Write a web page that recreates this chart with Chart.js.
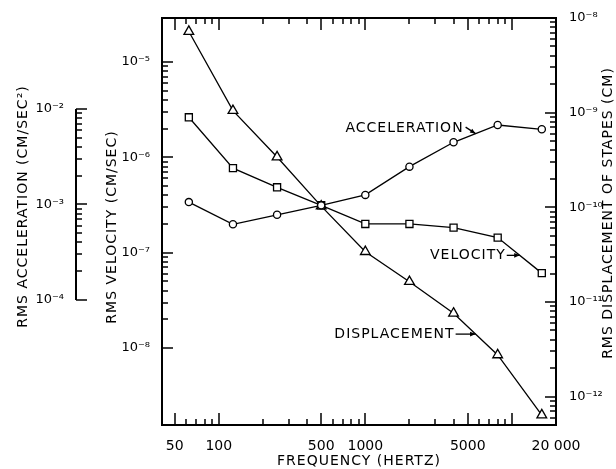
<!DOCTYPE html>
<html>
<head>
<meta charset="utf-8">
<script src="https://cdn.jsdelivr.net/npm/chart.js@4.4.1/dist/chart.umd.min.js"></script>
<style>
  html, body { margin: 0; padding: 0; background: #fff; }
  canvas { display: block; }
</style>
</head>
<body>
<canvas id="stapesChart" width="616" height="469"></canvas>
<script>
// octave band centres, Hz
const frequencies = [62.5, 125, 250, 500, 1000, 2000, 4000, 8000, 16000];

// rms motion of the stapes at each frequency
const acceleration = [1.06e-3, 6.2e-4, 7.8e-4, 9.8e-4, 1.26e-3, 2.49e-3, 4.48e-3, 6.8e-3, 6.13e-3]; // cm/sec^2
const velocity = [2.63e-6, 7.7e-7, 4.85e-7, 3.14e-7, 2.0e-7, 2.0e-7, 1.83e-7, 1.44e-7, 6.1e-8];        // cm/sec
const displacement = [7.2e-9, 1.05e-9, 3.4e-10, 1.03e-10, 3.4e-11, 1.64e-11, 7.6e-12, 2.76e-12, 6.4e-13]; // cm

const seriesLabels = ['ACCELERATION', 'VELOCITY', 'DISPLACEMENT'];

// labelled frequency ticks
const freqTickValues = [50, 100, 500, 1000, 5000, 20000];
const freqTickLabels = ['50', '100', '500', '1000', '5000', '20 000'];

// decades spanned by the tick marks of each vertical axis
const accDecades = [1e-4, 1e-2];
const velDecades = [1e-8, 1e-5];
const dispDecades = [1e-12, 1e-8];

const FONT = '"DejaVu Sans", sans-serif';
const INK = '#000';

const SUP = { '-': '\u207B', '0': '\u2070', '1': '\u00B9', '2': '\u00B2', '3': '\u00B3',
  '4': '\u2074', '5': '\u2075', '6': '\u2076', '7': '\u2077', '8': '\u2078', '9': '\u2079' };

function isDecade(v) {
  const e = Math.log10(v);
  return Math.abs(e - Math.round(e)) < 1e-6;
}
function within(v, lo, hi) {
  return v >= lo * 0.999 && v <= hi * 1.001;
}
function powerLabel(v) {
  return '10' + String(Math.round(Math.log10(v))).split('').map(c => SUP[c]).join('');
}
function decadeCallback(range) {
  return v => (within(v, range[0], range[1]) && isDecade(v)) ? powerLabel(v) : '';
}

// 1..9 x 10^n values between lo and hi
function logSteps(lo, hi) {
  const out = [];
  for (let e = Math.floor(Math.log10(lo)) - 1; e <= Math.ceil(Math.log10(hi)); e++) {
    for (let m = 1; m <= 9; m++) {
      const v = m * Math.pow(10, e);
      if (v >= lo * 0.999 && v <= hi * 1.001) out.push({ v, m });
    }
  }
  return out;
}

function points(values) {
  return frequencies.map((f, i) => ({ x: f, y: values[i] }));
}

const lineStyle = {
  borderColor: INK,
  borderWidth: 1.3,
  pointBackgroundColor: '#fff',
  pointBorderColor: INK,
  pointBorderWidth: 1.3,
  tension: 0,
  fill: false
};

// arrows from the curve names to a segment of each curve
const callouts = [
  { dataset: 0, segment: 6, from: [-10, -6.5], text: [-12, -5.5] },
  { dataset: 1, segment: 7, from: [-13, 0], text: [-14, 0] },
  { dataset: 2, segment: 6, from: [-20, 0], text: [-21, 0] }
];

function drawArrow(ctx, x0, y0, x1, y1) {
  const a = Math.atan2(y1 - y0, x1 - x0);
  ctx.beginPath();
  ctx.moveTo(x0, y0);
  ctx.lineTo(x1, y1);
  ctx.stroke();
  ctx.beginPath();
  ctx.moveTo(x1, y1);
  ctx.lineTo(x1 - 6 * Math.cos(a - 0.4), y1 - 6 * Math.sin(a - 0.4));
  ctx.lineTo(x1 - 6 * Math.cos(a + 0.4), y1 - 6 * Math.sin(a + 0.4));
  ctx.closePath();
  ctx.fill();
}

function drawRotated(ctx, text, x, y, rot) {
  ctx.save();
  ctx.translate(x, y);
  ctx.rotate(rot);
  ctx.textAlign = 'center';
  ctx.textBaseline = 'middle';
  ctx.fillText(text, 0, 0);
  ctx.restore();
}

// inward tick marks along a vertical edge
function yTicks(ctx, scale, x, dir, lo, hi) {
  logSteps(lo, hi).forEach(({ v, m }) => {
    const y = Math.round(scale.getPixelForValue(v));
    const len = m === 1 ? 11 : 6;
    ctx.beginPath();
    ctx.moveTo(x, y);
    ctx.lineTo(x + dir * len, y);
    ctx.stroke();
  });
}

// frame, tick marks, axis titles and curve names
const decorations = {
  id: 'decorations',
  afterDraw(chart) {
    const { ctx, chartArea: area, scales } = chart;
    ctx.save();
    ctx.strokeStyle = INK;
    ctx.fillStyle = INK;

    ctx.lineWidth = 2;
    ctx.strokeRect(area.left, area.top, area.right - area.left, area.bottom - area.top);

    ctx.lineWidth = 1.5;
    const xs = scales.x;
    logSteps(xs.min * 1.01, xs.max * 0.99).forEach(({ v, m }) => {
      const x = Math.round(xs.getPixelForValue(v));
      const len = (m === 1 || m === 5) ? 12 : 6;
      ctx.beginPath();
      ctx.moveTo(x, area.bottom);
      ctx.lineTo(x, area.bottom - len);
      ctx.moveTo(x, area.top);
      ctx.lineTo(x, area.top + len);
      ctx.stroke();
    });

    yTicks(ctx, scales.yVel, area.left, 1, velDecades[0], velDecades[1]);
    yTicks(ctx, scales.yDisp, area.right, -1, scales.yDisp.min, scales.yDisp.max * 0.99);

    // detached acceleration scale
    const acc = scales.yAcc;
    const accTop = acc.getPixelForValue(accDecades[1]);
    const accBottom = acc.getPixelForValue(accDecades[0]);
    ctx.lineWidth = 2;
    ctx.beginPath();
    ctx.moveTo(acc.right, accTop);
    ctx.lineTo(acc.right, accBottom);
    ctx.stroke();
    ctx.lineWidth = 1.5;
    yTicks(ctx, acc, acc.right, 1, accDecades[0], accDecades[1]);

    ctx.font = '14px ' + FONT;
    ctx.letterSpacing = '1px';
    drawRotated(ctx, 'FREQUENCY (HERTZ)', (area.left + area.right) / 2, chart.height - 8, 0);
    drawRotated(ctx, 'RMS VELOCITY (CM/SEC)', 112, 227, -Math.PI / 2);
    drawRotated(ctx, 'RMS ACCELERATION (CM/SEC\u00B2)', 23, (accTop + accBottom) / 2 + 2, -Math.PI / 2);
    drawRotated(ctx, 'RMS DISPLACEMENT OF STAPES (CM)', 608, 213, -Math.PI / 2);

    ctx.lineWidth = 1.3;
    callouts.forEach(c => {
      const pts = chart.getDatasetMeta(c.dataset).data;
      const a = pts[c.segment], b = pts[c.segment + 1];
      const tx = (a.x + b.x) / 2, ty = (a.y + b.y) / 2;
      drawArrow(ctx, tx + c.from[0], ty + c.from[1], tx, ty);
      ctx.textAlign = 'right';
      ctx.textBaseline = 'middle';
      ctx.fillText(seriesLabels[c.dataset], tx + c.text[0], ty + c.text[1]);
    });
    ctx.restore();
  }
};

const tickFont = { family: FONT, size: 13 };

new Chart(document.getElementById('stapesChart'), {
  type: 'line',
  data: {
    datasets: [
      Object.assign({ label: seriesLabels[0], data: points(acceleration), yAxisID: 'yAcc',
        pointStyle: 'circle', pointRadius: 3.6 }, lineStyle),
      Object.assign({ label: seriesLabels[1], data: points(velocity), yAxisID: 'yVel',
        pointStyle: 'rect', pointRadius: 5 }, lineStyle),
      Object.assign({ label: seriesLabels[2], data: points(displacement), yAxisID: 'yDisp',
        pointStyle: 'triangle', pointRadius: 5.6 }, lineStyle)
    ]
  },
  options: {
    responsive: false,
    animation: false,
    events: [],
    layout: { padding: { top: 18, left: 0, right: 0, bottom: 0 } },
    plugins: { legend: { display: false }, tooltip: { enabled: false } },
    scales: {
      x: {
        type: 'logarithmic',
        position: 'bottom',
        min: 41,
        max: 20000,
        grid: { display: false },
        border: { display: false },
        ticks: {
          autoSkip: false, maxRotation: 0, minRotation: 0, padding: 5,
          color: INK, font: { family: FONT, size: 14 },
          callback: v => {
            const i = freqTickValues.indexOf(Math.round(v));
            return (i >= 0 && Math.abs(v - freqTickValues[i]) < 1e-6) ? freqTickLabels[i] : '';
          }
        },
        afterFit: s => { s.height = 44; }
      },
      yAcc: {
        type: 'logarithmic',
        position: 'left',
        weight: 10,
        min: 4.91e-6,
        max: 0.0897,
        grid: { display: false },
        border: { display: false },
        ticks: { autoSkip: false, padding: 4, color: INK, font: tickFont, callback: decadeCallback(accDecades) },
        afterFit: s => { s.width = 76; }
      },
      yVel: {
        type: 'logarithmic',
        position: 'left',
        weight: 0,
        min: 1.557e-9,
        max: 2.894e-5,
        grid: { display: false },
        border: { display: false },
        ticks: { autoSkip: false, padding: 4, color: INK, font: tickFont, callback: decadeCallback(velDecades) },
        afterFit: s => { s.width = 86; }
      },
      yDisp: {
        type: 'logarithmic',
        position: 'right',
        min: 5.02e-13,
        max: 1e-8,
        grid: { display: false },
        border: { display: false },
        ticks: { autoSkip: false, padding: 5, color: INK, font: tickFont, callback: decadeCallback(dispDecades) },
        afterFit: s => { s.width = 60; }
      }
    }
  },
  plugins: [decorations]
});
</script>
</body>
</html>
